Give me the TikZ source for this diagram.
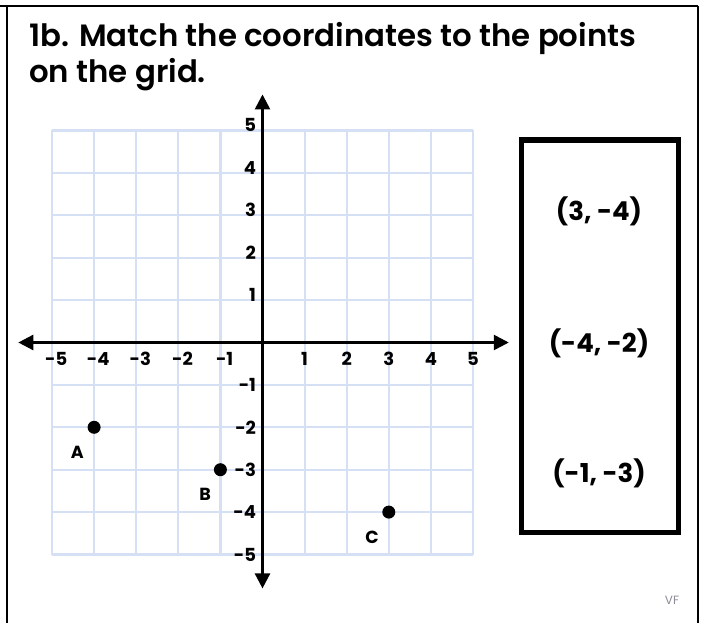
\documentclass[tikz,border=0pt]{standalone}
\usepackage{fontspec}
\setmainfont{Poppins}[BoldFont={Poppins SemiBold}]
\newfontfamily\heavyfont{Poppins Bold}
\usetikzlibrary{arrows.meta}
\definecolor{gridblue}{RGB}{214,224,244}
\definecolor{vfgray}{RGB}{140,140,150}
\tikzset{
  gridln/.style={draw=gridblue, line width=2.2pt},
  axisln/.style={draw=black, line width=2.6pt, -{Triangle[length=15pt,width=15pt]}},
  tick/.style={font=\fontsize{18}{18}\selectfont\heavyfont, inner sep=0pt},
  ptlabel/.style={font=\fontsize{17.5}{17.5}\selectfont\heavyfont, inner sep=0pt},
  dot/.style={circle, fill=black, minimum size=13pt, inner sep=0pt},
  answer/.style={font=\fontsize{26}{26}\selectfont\heavyfont, inner sep=0pt},
  titletext/.style={font=\fontsize{30.8}{30.8}\selectfont\bfseries, inner sep=0pt, anchor=base west},
  frame/.style={draw=black, line width=2.8pt},
  ansbox/.style={draw=black, line width=5pt}
}
\begin{document}
\begin{tikzpicture}[x=1pt,y=-1pt]
\useasboundingbox[fill=white] (0,0) rectangle (701,623);
% outer frame
\coordinate (fTL) at (0,6);
\coordinate (fTR) at (698,6);
\coordinate (fL1) at (7,6);
\coordinate (fL2) at (7,623);
\coordinate (fR2) at (698,623);
\draw[frame] (fTL) -- (fTR);
\draw[frame] (fL1) -- (fL2);
\draw[frame] (fTR) -- (fR2);
% title
\node[titletext] (t1) at (29,47) {1b. Match the coordinates to the points};
\node[titletext] (t2) at (29,83) {on the grid.};
% graph
\begin{scope}[shift={(262.5,342.5)}, x=42.1pt, y=42.4pt]
  \foreach \i in {-5,...,5} {
    \draw[gridln] (\i,-5) -- (\i,5);
    \draw[gridln] (-5,\i) -- (5,\i);
  }
  \coordinate (xl) at (-5.8,0);
  \coordinate (xr) at (5.85,0);
  \coordinate (yt) at (0,5.85);
  \coordinate (yb) at (0,-5.8);
  \coordinate (o) at (0,0);
  \draw[axisln] (o) -- (xl);
  \draw[axisln] (o) -- (xr);
  \draw[axisln] (o) -- (yt);
  \draw[axisln] (o) -- (yb);
  \foreach \i in {1,...,5} {
    \node[tick] (xp\i) at (\i,-0.38) {\i};
    \node[tick] (xn\i) at (-\i+0.1,-0.38) {-\i};
    \node[tick, anchor=east] (yp\i) at (-0.15,\i+0.12) {\i};
    \node[tick, anchor=east] (yn\i) at (-0.15,-\i) {-\i};
  }
  \node[dot] (A) at (-4,-2) {};
  \node[dot] (B) at (-1,-3) {};
  \node[dot] (C) at (3,-4) {};
  \node[ptlabel] (lA) at (-4.4,-2.6) {A};
  \node[ptlabel] (lB) at (-1.36,-3.57) {B};
  \node[ptlabel] (lC) at (2.6,-4.6) {C};
\end{scope}
% answer box
\node[ansbox, minimum width=157pt, minimum height=392pt, inner sep=0pt] (box) at (599.5,336) {};
\node[answer] (a1) at (599,211) {(3, -4)};
\node[answer] (a2) at (599,343) {(-4, -2)};
\node[answer] (a3) at (599,473) {(-1, -3)};
\node[font=\fontsize{12}{12}\selectfont, text=vfgray, inner sep=0pt] (vf) at (672,600) {VF};
\end{tikzpicture}
\end{document}
